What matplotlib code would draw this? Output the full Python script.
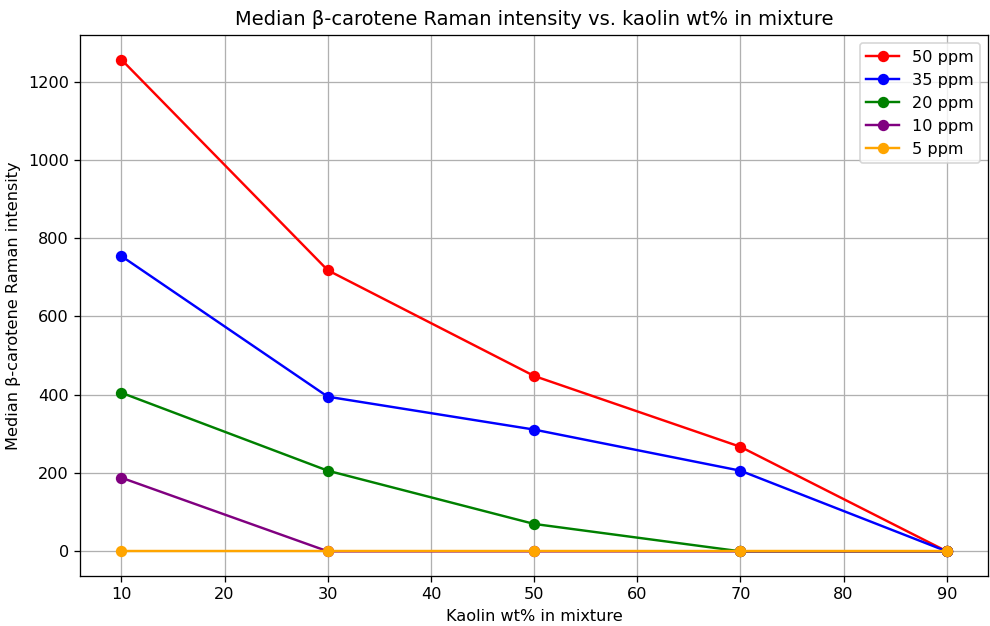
import matplotlib
matplotlib.use('Agg')
import matplotlib.pyplot as plt

kaolin = [10, 30, 50, 70, 90]
labels = ['50 ppm', '35 ppm', '20 ppm', '10 ppm', '5 ppm']
colors = ['red', 'blue', 'green', 'purple', 'orange']
ppm50 = [1256, 718, 448, 267, 0]
ppm35 = [754, 395, 311, 206, 0]
ppm20 = [405, 206, 70, 0, 0]
ppm10 = [188, 0, 0, 0, 0]
ppm5 = [0, 0, 0, 0, 0]
series = [ppm50, ppm35, ppm20, ppm10, ppm5]

dpi = 116.5
fig, ax = plt.subplots(figsize=(990 / dpi, 626 / dpi), dpi=dpi)
for vals, lab, col in zip(series, labels, colors):
    ax.plot(kaolin, vals, marker='o', color=col, label=lab)

ax.set_title('Median β-carotene Raman intensity vs. kaolin wt% in mixture')
ax.set_xlabel('Kaolin wt% in mixture')
ax.set_ylabel('Median β-carotene Raman intensity')
ax.grid(True)
ax.legend(loc='upper right')
fig.subplots_adjust(left=0.081, right=0.998, top=0.944, bottom=0.08)
fig.savefig('out.png', dpi=dpi)
